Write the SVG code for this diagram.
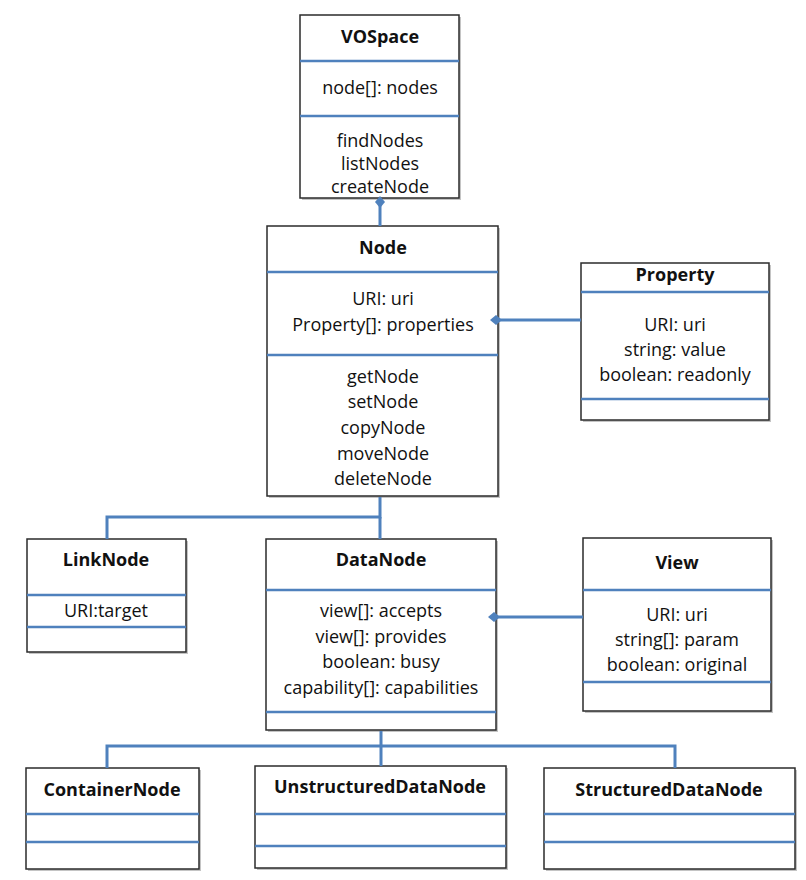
<svg xmlns="http://www.w3.org/2000/svg" width="806" height="880" viewBox="0 0 806 880">
<style>
.box{fill:#fff;stroke:#2b2b2b;stroke-width:1.5}
.sh{fill:#c4c4c4}
.sep{stroke:#4f81bd;stroke-width:2.5}
.con{stroke:#4f81bd;stroke-width:3;fill:none}
.dia{fill:#4f81bd}
text{font-family:"Open Sans","Liberation Sans",sans-serif;font-size:18px;fill:#111;text-anchor:middle}
.t{font-weight:bold;font-size:18px}
</style>
<rect width="806" height="880" fill="#fff"/>
<g id="VOSpace">
<rect class="sh" x="302" y="17" width="159" height="183"/>
<rect class="box" x="300" y="15" width="159" height="183"/>
<line class="sep" x1="300" y1="61" x2="459" y2="61"/>
<line class="sep" x1="300" y1="116" x2="459" y2="116"/>
<text class="t" x="380" y="43">VOSpace</text>
<text x="380" y="94">node[]: nodes</text>
<text x="380" y="147">findNodes</text>
<text x="380" y="170">listNodes</text>
<text x="380" y="193">createNode</text>
</g>
<g id="Node">
<rect class="sh" x="269" y="228" width="231" height="270"/>
<rect class="box" x="267" y="226" width="231" height="270"/>
<line class="sep" x1="267" y1="272" x2="498" y2="272"/>
<line class="sep" x1="267" y1="355" x2="498" y2="355"/>
<text class="t" x="383" y="254">Node</text>
<text x="383" y="305">URI: uri</text>
<text x="383" y="331">Property[]: properties</text>
<text x="383" y="383">getNode</text>
<text x="383" y="408">setNode</text>
<text x="383" y="434">copyNode</text>
<text x="383" y="460">moveNode</text>
<text x="383" y="485">deleteNode</text>
</g>
<g id="Property">
<rect class="sh" x="583" y="265" width="188" height="157"/>
<rect class="box" x="581" y="263" width="188" height="157"/>
<line class="sep" x1="581" y1="292" x2="769" y2="292"/>
<line class="sep" x1="581" y1="399" x2="769" y2="399"/>
<text class="t" x="675" y="281">Property</text>
<text x="675" y="331">URI: uri</text>
<text x="675" y="356">string: value</text>
<text x="675" y="381">boolean: readonly</text>
</g>
<g id="LinkNode">
<rect class="sh" x="29" y="541" width="159" height="113"/>
<rect class="box" x="27" y="539" width="159" height="113"/>
<line class="sep" x1="27" y1="595" x2="186" y2="595"/>
<line class="sep" x1="27" y1="627" x2="186" y2="627"/>
<text class="t" x="106" y="566">LinkNode</text>
<text x="106" y="617">URI:target</text>
</g>
<g id="DataNode">
<rect class="sh" x="268" y="541" width="230" height="191"/>
<rect class="box" x="266" y="539" width="230" height="191"/>
<line class="sep" x1="266" y1="590" x2="496" y2="590"/>
<line class="sep" x1="266" y1="712" x2="496" y2="712"/>
<text class="t" x="381" y="566">DataNode</text>
<text x="381" y="617">view[]: accepts</text>
<text x="381" y="643">view[]: provides</text>
<text x="381" y="668">boolean: busy</text>
<text x="381" y="694">capability[]: capabilities</text>
</g>
<g id="View">
<rect class="sh" x="585" y="540" width="188" height="173"/>
<rect class="box" x="583" y="538" width="188" height="173"/>
<line class="sep" x1="583" y1="590" x2="771" y2="590"/>
<line class="sep" x1="583" y1="682" x2="771" y2="682"/>
<text class="t" x="677" y="569">View</text>
<text x="677" y="621">URI: uri</text>
<text x="677" y="646">string[]: param</text>
<text x="677" y="671">boolean: original</text>
</g>
<g id="ContainerNode">
<rect class="sh" x="28" y="770" width="173" height="101"/>
<rect class="box" x="26" y="768" width="173" height="101"/>
<line class="sep" x1="26" y1="814" x2="199" y2="814"/>
<line class="sep" x1="26" y1="842" x2="199" y2="842"/>
<text class="t" x="112" y="796">ContainerNode</text>
</g>
<g id="UnstructuredDataNode">
<rect class="sh" x="257" y="768" width="251" height="102"/>
<rect class="box" x="255" y="766" width="251" height="102"/>
<line class="sep" x1="255" y1="814" x2="506" y2="814"/>
<line class="sep" x1="255" y1="846" x2="506" y2="846"/>
<text class="t" x="380" y="793">UnstructuredDataNode</text>
</g>
<g id="StructuredDataNode">
<rect class="sh" x="546" y="770" width="251" height="101"/>
<rect class="box" x="544" y="768" width="251" height="101"/>
<line class="sep" x1="544" y1="814" x2="795" y2="814"/>
<line class="sep" x1="544" y1="842" x2="795" y2="842"/>
<text class="t" x="669" y="796">StructuredDataNode</text>
</g>
<g id="connectors">
<line class="con" x1="380" y1="202" x2="380" y2="226"/>
<line class="con" x1="498" y1="320" x2="581" y2="320"/>
<polyline class="con" points="380,497 380,517 107,517 107,539"/>
<line class="con" x1="380" y1="517" x2="380" y2="539"/>
<line class="con" x1="496" y1="617" x2="583" y2="617"/>
<polyline class="con" points="107,768 107,746 675,746 675,768"/>
<line class="con" x1="381" y1="731" x2="381" y2="766"/>
<polygon class="dia" points="380,196 385,202 380,208 375,202"/>
<polygon class="dia" points="490,320 496,315 502,320 496,325"/>
<polygon class="dia" points="488,617 494,612 500,617 494,622"/>
</g>
</svg>
